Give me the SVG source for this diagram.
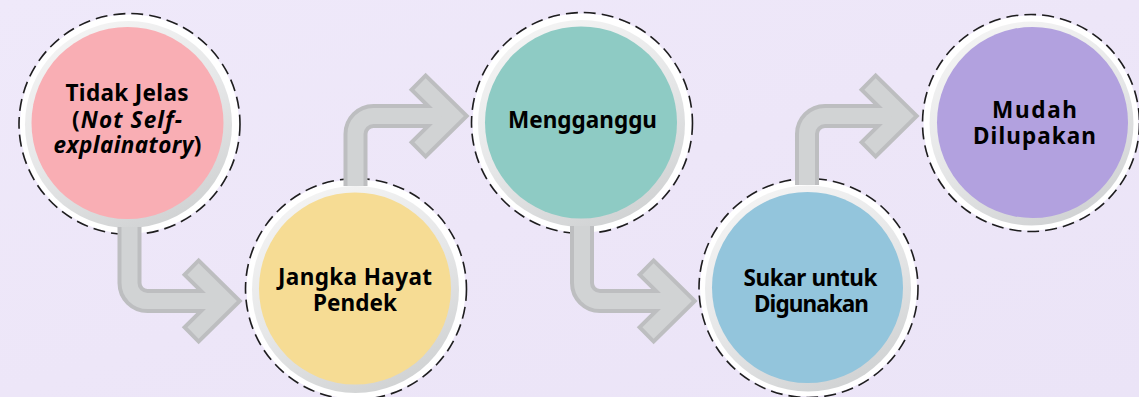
<svg xmlns="http://www.w3.org/2000/svg" width="1139" height="397" viewBox="0 0 1139 397">
<defs>
<linearGradient id="bg" x1="0" y1="0" x2="1" y2="1">
<stop offset="0" stop-color="#efe9fa"/>
<stop offset="0.5" stop-color="#ede6f8"/>
<stop offset="1" stop-color="#ebe4f7"/>
</linearGradient>
<linearGradient id="ring" x1="0.25" y1="0" x2="0.75" y2="1">
<stop offset="0" stop-color="#f4f4f4"/>
<stop offset="0.5" stop-color="#e6e7e8"/>
<stop offset="1" stop-color="#cfd1d2"/>
</linearGradient>
</defs>
<style>
.halo{fill:#ffffff}
.dash{fill:none;stroke:#1e1e1e;stroke-width:1.6;stroke-dasharray:12 6}
.ring{fill:url(#ring)}
.lbl{font-family:"Noto Sans","Lato",sans-serif;font-weight:700;font-size:22.5px;fill:#000;text-anchor:middle}
.it{font-style:italic}
.sd{fill:none;stroke:#bdbec0;stroke-width:24;stroke-linejoin:miter;stroke-linecap:butt}
.sl{fill:none;stroke:#d1d3d4;stroke-width:16;stroke-linejoin:miter;stroke-linecap:butt}
</style>
<rect width="1139" height="397" fill="url(#bg)"/>

<g id="node1">
<circle class="halo" cx="129.5" cy="124" r="109.5"/>
<circle class="dash" cx="129.5" cy="124" r="110.5"/>
<circle class="ring" cx="128.5" cy="124.5" r="103.5"/>
<circle cx="127.5" cy="123" r="96" fill="#f9aeb4"/>
<text class="lbl" x="127" y="101" textLength="123" lengthAdjust="spacing">Tidak Jelas</text>
<text class="lbl" x="127" y="128" textLength="110" lengthAdjust="spacing">(<tspan class="it">Not Self-</tspan></text>
<text class="lbl" x="127.5" y="153" textLength="148" lengthAdjust="spacing"><tspan class="it">explainatory</tspan>)</text>
</g>

<g id="node2">
<circle class="halo" cx="356" cy="289" r="109.5"/>
<circle class="dash" cx="356" cy="289" r="110.5"/>
<circle class="ring" cx="355.5" cy="289.5" r="103.5"/>
<circle cx="355" cy="288.5" r="96" fill="#f6dc94"/>
<text class="lbl" x="355" y="285" textLength="154" lengthAdjust="spacing">Jangka Hayat</text>
<text class="lbl" x="355" y="311" textLength="84" lengthAdjust="spacing">Pendek</text>
</g>

<g id="node3">
<circle class="halo" cx="582" cy="123" r="109.5"/>
<circle class="dash" cx="582" cy="123" r="110.5"/>
<circle class="ring" cx="581.5" cy="123.5" r="103.5"/>
<circle cx="581" cy="122.5" r="96" fill="#8ecbc4"/>
<text class="lbl" x="582.5" y="128" textLength="149" lengthAdjust="spacing">Mengganggu</text>
</g>

<g id="node4">
<circle class="halo" cx="808.5" cy="288" r="108.5"/>
<circle class="dash" cx="808.5" cy="288" r="109.5"/>
<circle class="ring" cx="808" cy="288.5" r="103"/>
<circle cx="807.5" cy="287.5" r="95.5" fill="#93c5dc"/>
<text class="lbl" x="810.5" y="286" textLength="134" lengthAdjust="spacing">Sukar untuk</text>
<text class="lbl" x="811.5" y="312" textLength="115" lengthAdjust="spacing">Digunakan</text>
</g>

<g id="node5">
<circle class="halo" cx="1031" cy="123" r="107.5"/>
<circle class="dash" cx="1031" cy="123" r="108.5"/>
<circle class="ring" cx="1031.5" cy="123.5" r="102"/>
<circle cx="1032.5" cy="122.5" r="95.5" fill="#b2a1df"/>
<text class="lbl" x="1034.5" y="118" textLength="85" lengthAdjust="spacing">Mudah</text>
<text class="lbl" x="1034.5" y="144" textLength="123" lengthAdjust="spacing">Dilupakan</text>
</g>

<g id="connectors">
<path class="sd" d="M129.5,227 V283 A18,18 0 0 0 147.5,301 H225"/>
<path class="sd" d="M190.2,266.2 L225.5,301 L190.2,335.8"/>
<path class="sd" d="M355.5,186 V134 A18,18 0 0 1 373.5,116 H452"/>
<path class="sd" d="M417.2,81.2 L452.5,116 L417.2,150.8"/>
<path class="sd" d="M582,226 V283 A18,18 0 0 0 600,301 H680"/>
<path class="sd" d="M645.2,266.2 L680.5,301 L645.2,335.8"/>
<path class="sd" d="M807,185 V134 A18,18 0 0 1 825,116 H902"/>
<path class="sd" d="M867.2,81.2 L902.5,116 L867.2,150.8"/>
<path class="sl" d="M129.5,227 V283 A18,18 0 0 0 147.5,301 H225"/>
<path class="sl" d="M193,269 L225.5,301 L193,333"/>
<path class="sl" d="M355.5,186 V134 A18,18 0 0 1 373.5,116 H452"/>
<path class="sl" d="M420,84 L452.5,116 L420,148"/>
<path class="sl" d="M582,226 V283 A18,18 0 0 0 600,301 H680"/>
<path class="sl" d="M648,269 L680.5,301 L648,333"/>
<path class="sl" d="M807,185 V134 A18,18 0 0 1 825,116 H902"/>
<path class="sl" d="M870,84 L902.5,116 L870,148"/>
</g>
</svg>
